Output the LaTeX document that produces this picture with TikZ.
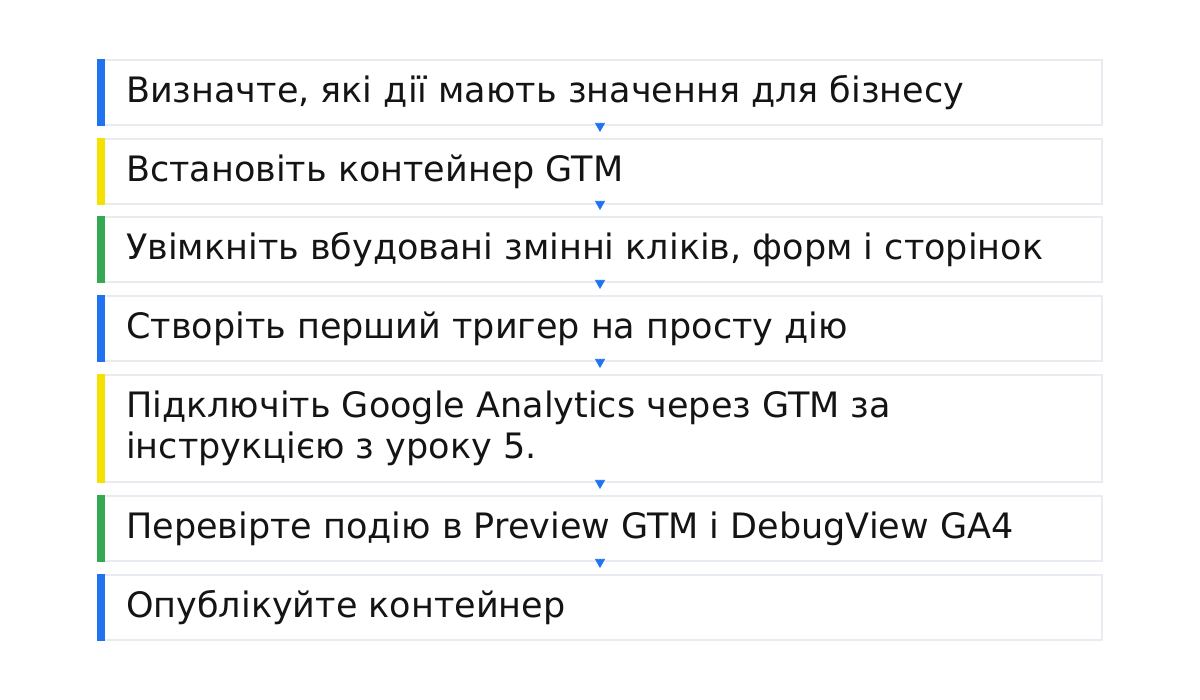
\documentclass[tikz,border=0pt]{standalone}
\usepackage{fontspec}
\setmainfont{DejaVu Sans}
\usetikzlibrary{arrows.meta}
\definecolor{gblue}{HTML}{1F73F0}
\definecolor{gyellow}{HTML}{F5E100}
\definecolor{ggreen}{HTML}{34A853}
\definecolor{bordergray}{HTML}{E8EBF0}
\definecolor{txtcol}{HTML}{141414}
\tikzset{
  stepbox/.style={draw=bordergray, line width=2pt, fill=white, minimum width=1003pt, inner sep=0pt},
  steptext/.style={anchor=west, inner sep=0pt, text=txtcol, align=left, font=\fontsize{35}{41}\selectfont},
  flow/.style={-{Triangle[width=10pt,length=9pt]}, draw=gblue, line width=0.6pt, shorten >=6pt},
}
\begin{document}
\begin{tikzpicture}[x=1pt,y=1pt]
\useasboundingbox (0,0) rectangle (1200,700);
\fill[white] (0,0) rectangle (1200,700);
% boxes
\node[stepbox, minimum height=65pt] (b1) at (600,607.5) {};
\node[stepbox, minimum height=65pt] (b2) at (600,528.5) {};
\node[stepbox, minimum height=65pt] (b3) at (600,450.5) {};
\node[stepbox, minimum height=65pt] (b4) at (600,371.5) {};
\node[stepbox, minimum height=107pt] (b5) at (600,271.5) {};
\node[stepbox, minimum height=65pt] (b6) at (600,171.5) {};
\node[stepbox, minimum height=65pt] (b7) at (600,92.5) {};
% bars
\fill[gblue]   ([xshift=-1pt]b1.north west) rectangle ([xshift=7pt]b1.south west);
\fill[gyellow] ([xshift=-1pt]b2.north west) rectangle ([xshift=7pt]b2.south west);
\fill[ggreen]  ([xshift=-1pt]b3.north west) rectangle ([xshift=7pt]b3.south west);
\fill[gblue]   ([xshift=-1pt]b4.north west) rectangle ([xshift=7pt]b4.south west);
\fill[gyellow] ([xshift=-1pt]b5.north west) rectangle ([xshift=7pt]b5.south west);
\fill[ggreen]  ([xshift=-1pt]b6.north west) rectangle ([xshift=7pt]b6.south west);
\fill[gblue]   ([xshift=-1pt]b7.north west) rectangle ([xshift=7pt]b7.south west);
% texts
\node[steptext] (t1) at ([xshift=28.5pt]b1.west) {Визначте, які дії мають значення для бізнесу};
\node[steptext] (t2) at ([xshift=28.5pt]b2.west) {Встановіть контейнер GTM};
\node[steptext] (t3) at ([xshift=28.5pt]b3.west) {Увімкніть вбудовані змінні кліків, форм і сторінок};
\node[steptext] (t4) at ([xshift=28.5pt]b4.west) {Створіть перший тригер на просту дію};
\node[steptext] (t5) at ([xshift=28.5pt]b5.west) {Підключіть Google Analytics через GTM за\\інструкцією з уроку 5.};
\node[steptext] (t6) at ([xshift=28.5pt]b6.west) {Перевірте подію в Preview GTM і DebugView GA4};
\node[steptext] (t7) at ([xshift=28.5pt]b7.west) {Опублікуйте контейнер};
% arrows
\draw[flow] (b1.south) -- (b2.north);
\draw[flow] (b2.south) -- (b3.north);
\draw[flow] (b3.south) -- (b4.north);
\draw[flow] (b4.south) -- (b5.north);
\draw[flow] (b5.south) -- (b6.north);
\draw[flow] (b6.south) -- (b7.north);
\end{tikzpicture}
\end{document}
